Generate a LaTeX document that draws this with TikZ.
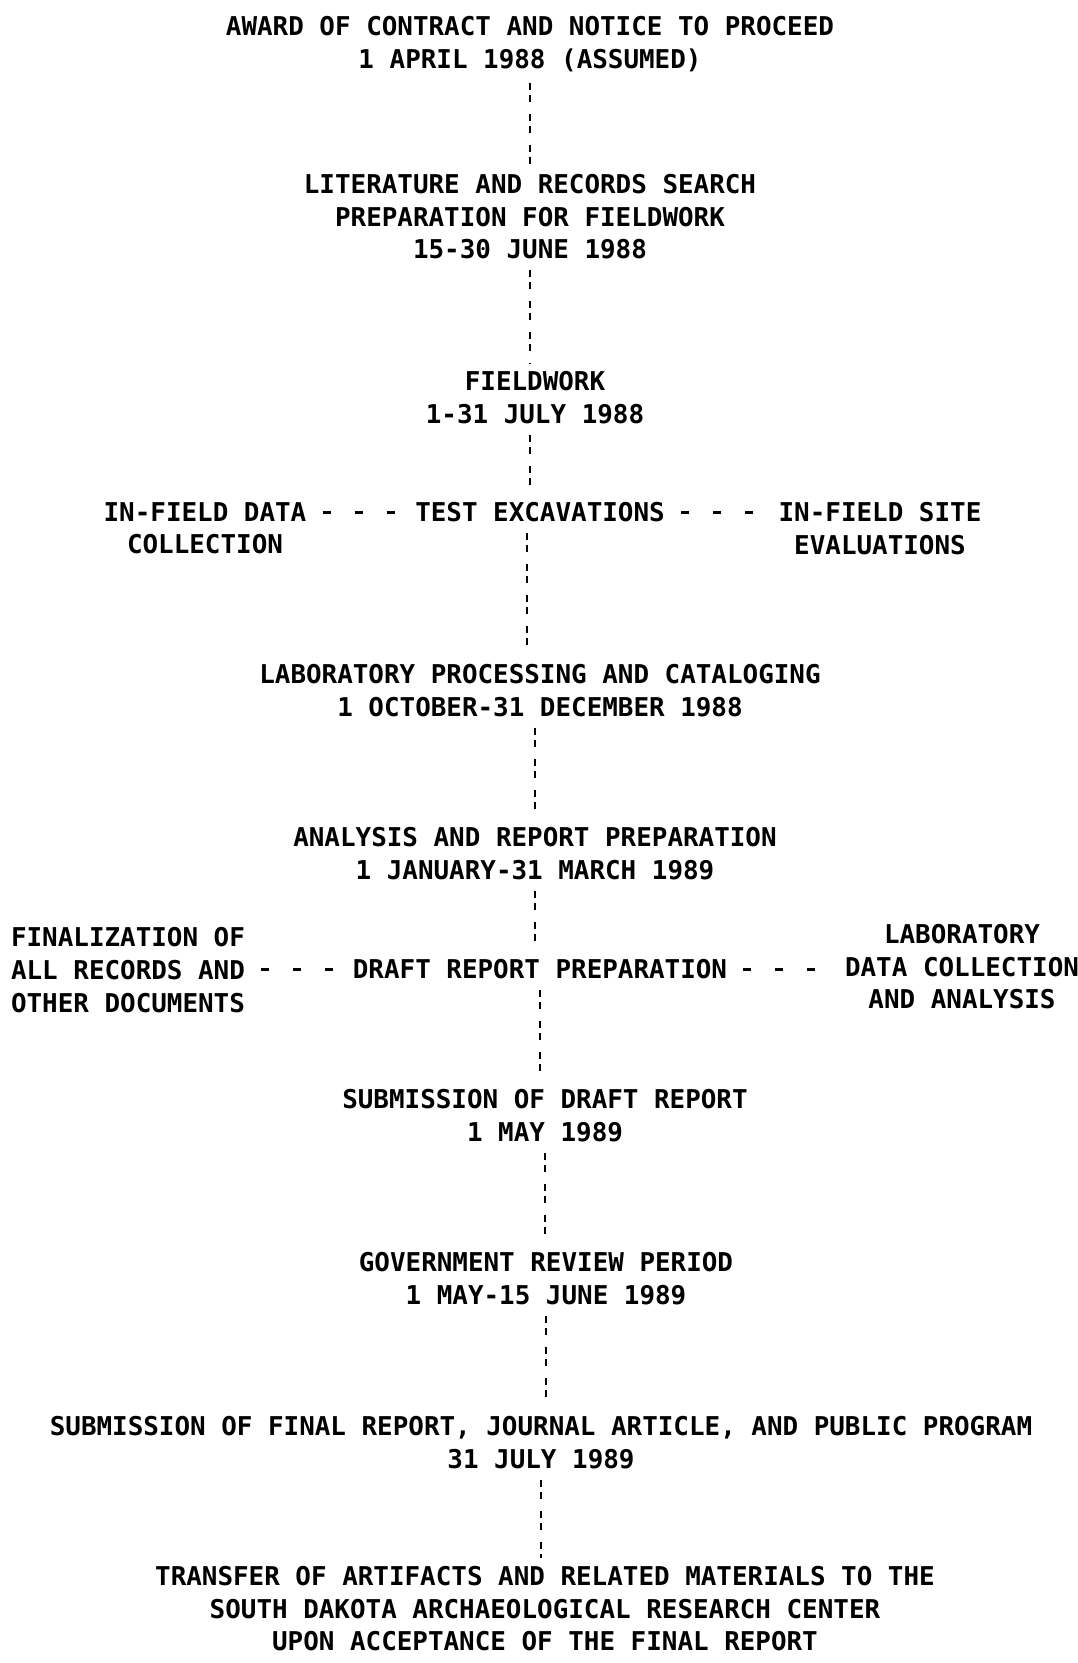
\documentclass[tikz,border=0pt]{standalone}
\usepackage{fontspec}
\setmonofont{DejaVu Sans Mono}
\begin{document}
\begin{tikzpicture}[x=1pt,y=-1pt,
	txt/.style={font=\ttfamily\bfseries\fontsize{25.9pt}{32.6pt}\selectfont,align=center,inner sep=0pt,anchor=north},
	vdash/.style={line width=2.6pt,dash pattern=on 7pt off 5pt on 7pt off 12pt,shorten <=11pt,shorten >=8pt},
	hdash/.style={line width=3pt,dash pattern=on 8pt off 24pt,shorten <=16pt,shorten >=16pt}]
	\useasboundingbox (0,0) rectangle (1077,1663);

	\node[txt] (award) at (530,16) {AWARD OF CONTRACT AND NOTICE TO PROCEED\\1 APRIL 1988 (ASSUMED)};
	\node[txt] (lit) at (530,174) {LITERATURE AND RECORDS SEARCH\\PREPARATION FOR FIELDWORK\\15-30 JUNE 1988};
	\node[txt] (field) at (535,371.5) {FIELDWORK\\1-31 JULY 1988};

	\node[txt] (test) at (540,502) {TEST EXCAVATIONS};
	\node[txt] (data) at (205,502) {IN-FIELD DATA\\COLLECTION};
	\node[txt] (site) at (880,502) {IN-FIELD SITE\\EVALUATIONS};

	\node[txt] (lab) at (540,664) {LABORATORY PROCESSING AND CATALOGING\\1 OCTOBER-31 DECEMBER 1988};
	\node[txt] (analysis) at (535,827.5) {ANALYSIS AND REPORT PREPARATION\\1 JANUARY-31 MARCH 1989};

	\node[txt] (draft) at (540,959) {DRAFT REPORT PREPARATION};
	\node[txt] (fin) at (128,927.5) {FINALIZATION OF\\ALL RECORDS AND\\OTHER DOCUMENTS};
	\node[txt] (labdata) at (962,924) {LABORATORY\\DATA COLLECTION\\AND ANALYSIS};

	\node[txt] (subdraft) at (545,1089.5) {SUBMISSION OF DRAFT REPORT\\1 MAY 1989};
	\node[txt] (gov) at (546,1252) {GOVERNMENT REVIEW PERIOD\\1 MAY-15 JUNE 1989};
	\node[txt] (final) at (541,1416.5) {SUBMISSION OF FINAL REPORT, JOURNAL ARTICLE, AND PUBLIC PROGRAM\\31 JULY 1989};
	\node[txt] (transfer) at (545,1566) {TRANSFER OF ARTIFACTS AND RELATED MATERIALS TO THE\\SOUTH DAKOTA ARCHAEOLOGICAL RESEARCH CENTER\\UPON ACCEPTANCE OF THE FINAL REPORT};

	% main sequence
	\draw[vdash] (award.south) -- (award.south |- lit.north);
	\draw[vdash] (lit.south) -- (lit.south |- field.north);
	\draw[vdash] ([xshift=-5pt]field.south) -- ([xshift=-5pt]field.south |- test.north);
	\draw[vdash] ([xshift=-13pt]test.south) -- ([xshift=-13pt]test.south |- lab.north);
	\draw[vdash] (analysis.north |- lab.south) -- (analysis.north);
	\draw[vdash] (analysis.south) -- (analysis.south |- draft.north);
	\draw[vdash] (draft.south) -- (draft.south |- subdraft.north);
	\draw[vdash] (subdraft.south) -- (subdraft.south |- gov.north);
	\draw[vdash] (gov.south) -- (gov.south |- final.north);
	\draw[vdash] (final.south) -- (final.south |- transfer.north);

	% side tasks
	\draw[hdash] (test.west -| data.east) -- (test.west);
	\draw[hdash] (test.east) -- (test.east -| site.west);
	\draw[hdash] (draft.west -| fin.east) -- (draft.west);
	\draw[hdash] (draft.east) -- (draft.east -| labdata.west);
\end{tikzpicture}
\end{document}
